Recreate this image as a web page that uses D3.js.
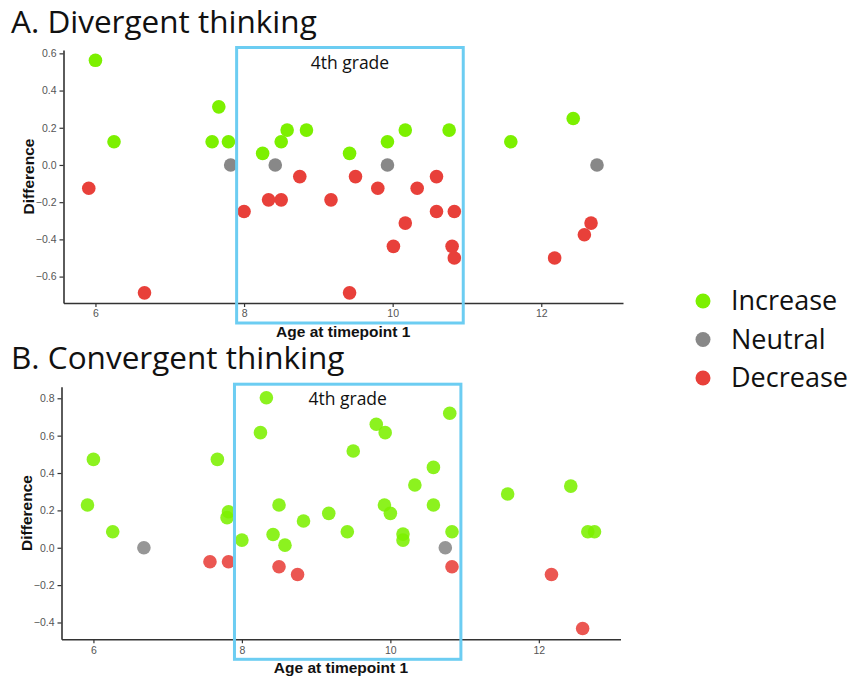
<!DOCTYPE html>
<html>
<head>
<meta charset="utf-8">
<script src="https://cdn.jsdelivr.net/npm/d3@7/dist/d3.min.js"></script>
<style>
  html, body { margin: 0; padding: 0; background: #fff; }
  svg { display: block; }
</style>
</head>
<body>
<svg id="chart" width="853" height="679"></svg>
<script>
// Divergent thinking: age at timepoint 1 and change in score
const divAge  = [5.91, 6.0, 6.25, 6.66, 7.57, 7.66, 7.79, 7.82, 8.0, 8.25, 8.33, 8.42, 8.5, 8.5, 8.58, 8.75, 8.84, 9.17, 9.42, 9.42,
                 9.5, 9.8, 9.93, 9.93, 10.01, 10.17, 10.17, 10.33, 10.59, 10.59, 10.76, 10.8, 10.83, 10.83, 11.59, 12.18, 12.43, 12.58, 12.67, 12.75];
const divDiff = [-0.125, 0.5625, 0.125, -0.6875, 0.125, 0.3125, 0.125, 0, -0.25, 0.0625, -0.1875, 0, 0.125, -0.1875, 0.1875, -0.0625, 0.1875, -0.1875, 0.0625, -0.6875,
                 -0.0625, -0.125, 0.125, 0, -0.4375, 0.1875, -0.3125, -0.125, -0.0625, -0.25, 0.1875, -0.4375, -0.25, -0.5, 0.125, -0.5, 0.25, -0.375, -0.3125, 0];

// Convergent thinking: age at timepoint 1 and change in score
const convAge  = [5.92, 6.0, 6.26, 6.68, 7.57, 7.67, 7.80, 7.82, 7.82, 8.0, 8.25, 8.33, 8.42, 8.5, 8.5, 8.58, 8.75, 8.83, 9.17, 9.42,
                  9.5, 9.81, 9.92, 9.93, 10.0, 10.17, 10.17, 10.33, 10.58, 10.58, 10.74, 10.8, 10.83, 10.83, 11.58, 12.17, 12.43, 12.59, 12.66, 12.75];
const convDiff = [0.229, 0.473, 0.086, 0, -0.075, 0.473, 0.161, 0.193, -0.075, 0.041, 0.616, 0.803, 0.071, 0.229, -0.102, 0.014, -0.143, 0.143, 0.184, 0.086,
                  0.518, 0.661, 0.229, 0.616, 0.184, 0.073, 0.041, 0.336, 0.43, 0.229, 0, 0.72, 0.086, -0.102, 0.288, -0.143, 0.33, -0.432, 0.086, 0.086];

const divTicks  = [-0.6, -0.4, -0.2, 0, 0.2, 0.4, 0.6];
const convTicks = [-0.4, -0.2, 0, 0.2, 0.4, 0.6, 0.8];
const ageTicks  = [6, 8, 10, 12];

const groups = ["Increase", "Neutral", "Decrease"];
const groupColors = ["#7CF000", "#888888", "#E8403A"];
const gradeRange = [7.9, 10.95];   // ages covered by 4th grade
const gradeLabel = "4th grade";

const color = d3.scaleOrdinal(groups, groupColors);
const groupOf = v => v > 0 ? "Increase" : (v < 0 ? "Decrease" : "Neutral");

const svg = d3.select("#chart");

const panels = [
  { title: "A. Divergent thinking", age: divAge, diff: divDiff, ticks: divTicks,
    yDomain: [-0.742, 0.618], top: 50, bottom: 303, left: 63.5, right: 623, titleY: 33, opacity: 1 },
  { title: "B. Convergent thinking", age: convAge, diff: convDiff, ticks: convTicks,
    yDomain: [-0.49, 0.862], top: 386.7, bottom: 639.3, left: 61.5, right: 620.5, titleY: 369, opacity: 0.88 }
];

panels.forEach(p => {
  const x = d3.scaleLinear().domain([5.57, 13.1]).range([p.left, p.right]);
  const y = d3.scaleLinear().domain(p.yDomain).range([p.bottom, p.top]);
  const g = svg.append("g");

  g.append("text")
    .attr("x", 11).attr("y", p.titleY)
    .attr("font-family", "'Open Sans', sans-serif")
    .attr("font-size", 31.5)
    .attr("fill", "#111")
    .text(p.title);

  const yAxis = g.append("g")
    .attr("transform", `translate(${p.left},0)`)
    .call(d3.axisLeft(y).tickValues(p.ticks).tickFormat(d3.format(".1f")).tickSize(4).tickSizeOuter(0));
  const xAxis = g.append("g")
    .attr("transform", `translate(0,${p.bottom})`)
    .call(d3.axisBottom(x).tickValues(ageTicks).tickFormat(d3.format("d")).tickSize(4).tickSizeOuter(0));

  [yAxis, xAxis].forEach(a => {
    a.select(".domain").attr("stroke", "#333").attr("stroke-width", 1.6);
    a.selectAll(".tick line").attr("stroke", "#333").attr("stroke-width", 1.2);
    a.selectAll(".tick text")
      .attr("fill", "#555")
      .attr("font-family", "'Liberation Sans', Arial, sans-serif")
      .attr("font-size", 10.5);
  });

  g.append("text")
    .attr("transform", `translate(${p.left - 30},${(p.top + p.bottom) / 2}) rotate(-90)`)
    .attr("text-anchor", "middle")
    .attr("font-family", "'Liberation Sans', Arial, sans-serif")
    .attr("font-weight", "bold")
    .attr("font-size", 15.5)
    .attr("fill", "#111")
    .text("Difference");

  g.append("text")
    .attr("x", (p.left + p.right) / 2)
    .attr("y", p.bottom + 33.5)
    .attr("text-anchor", "middle")
    .attr("font-family", "'Liberation Sans', Arial, sans-serif")
    .attr("font-weight", "bold")
    .attr("font-size", 15.5)
    .attr("fill", "#111")
    .text("Age at timepoint 1");

  const pts = p.age.map((a, i) => ({ age: a, diff: p.diff[i], group: groupOf(p.diff[i]) }));
  g.append("g").selectAll("circle")
    .data(pts)
    .join("circle")
    .attr("cx", d => x(d.age))
    .attr("cy", d => y(d.diff))
    .attr("r", 6.8)
    .attr("fill", d => color(d.group))
    .attr("fill-opacity", p.opacity);

  // 4th-grade window
  const bx0 = x(gradeRange[0]), bx1 = x(gradeRange[1]);
  const by0 = p.top - 2.5, by1 = p.bottom + 20;
  g.append("rect")
    .attr("x", bx0).attr("y", by0)
    .attr("width", bx1 - bx0).attr("height", by1 - by0)
    .attr("fill", "none")
    .attr("stroke", "#6CCDF2")
    .attr("stroke-width", 3);
  g.append("text")
    .attr("x", (bx0 + bx1) / 2)
    .attr("y", by0 + 21)
    .attr("text-anchor", "middle")
    .attr("font-family", "'Open Sans', sans-serif")
    .attr("font-size", 17.5)
    .attr("fill", "#111")
    .text(gradeLabel);
});

// Legend
const legend = svg.append("g").attr("transform", "translate(703,301)");
groups.forEach((grp, i) => {
  const row = legend.append("g").attr("transform", `translate(0,${i * 38.5})`);
  row.append("circle").attr("r", 7.5).attr("fill", color(grp));
  row.append("text")
    .attr("x", 28).attr("y", 0)
    .attr("dy", "0.35em")
    .attr("font-family", "'Open Sans', sans-serif")
    .attr("font-size", 27)
    .attr("fill", "#111")
    .text(grp);
});
</script>
</body>
</html>
